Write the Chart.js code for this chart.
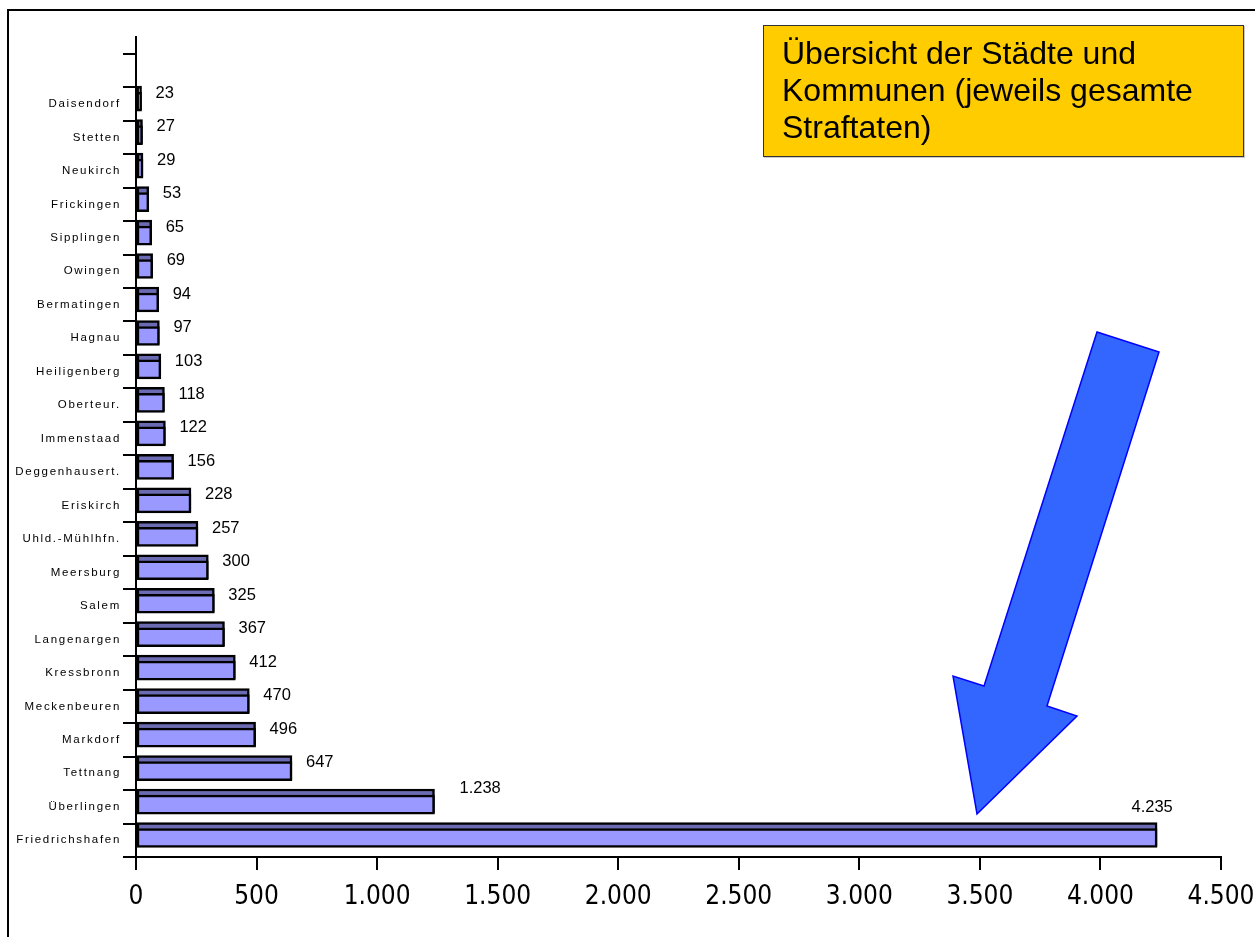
<!DOCTYPE html>
<html><head><meta charset="utf-8">
<script src="https://cdn.jsdelivr.net/npm/chart.js@4/dist/chart.umd.min.js"></script>
<style>
html,body{margin:0;padding:0;background:#fff;overflow:hidden;width:1255px;height:937px;}
#wrap{position:relative;width:1255px;height:937px;overflow:hidden;}
#frame{position:absolute;left:7px;top:9px;width:1400px;height:1100px;border:2px solid #000;box-sizing:border-box;}
#c{position:absolute;left:0;top:0;}
#note{position:absolute;left:763px;top:25px;width:481px;height:132px;box-sizing:border-box;background:#ffcc00;border:1px solid #333;font-family:'Liberation Sans',Arial,sans-serif;font-size:32px;line-height:37px;padding:9px 0 0 18px;color:#000;box-shadow:1px 1px 0 #c8c8c8;}
</style></head>
<body><div id="wrap"><div id="frame"></div><canvas id="c" width="1255" height="937"></canvas><div id="note">Übersicht der Städte und<br>Kommunen (jeweils gesamte<br>Straftaten)</div></div>
<script>
// ---- data ----
const categories = ['', 'Daisendorf', 'Stetten', 'Neukirch', 'Frickingen', 'Sipplingen', 'Owingen',
  'Bermatingen', 'Hagnau', 'Heiligenberg', 'Oberteur.', 'Immenstaad', 'Deggenhausert.', 'Eriskirch',
  'Uhld.-Mühlhfn.', 'Meersburg', 'Salem', 'Langenargen', 'Kressbronn', 'Meckenbeuren', 'Markdorf',
  'Tettnang', 'Überlingen', 'Friedrichshafen'];
const straftaten = [null, 23, 27, 29, 53, 65, 69, 94, 97, 103, 118, 122, 156, 228, 257, 300, 325,
  367, 412, 470, 496, 647, 1238, 4235];
const xTickValues = [0, 500, 1000, 1500, 2000, 2500, 3000, 3500, 4000, 4500];

const fmt = v => String(v).replace(/\B(?=(\d{3})+(?!\d))/g, '.');
const points = categories.map((c, i) => ({x: straftaten[i], y: i})).filter(p => p.x !== null);

const N = categories.length;
const yMin = -1, yMax = N - 0.5;           // label axis range (half band above the first tick)
const darkShift = 0.172, lightShift = 0.067; // bars sit in the upper part of each band

const spacingPlugin = {
  id: 'spacing',
  beforeDraw(chart) { chart.ctx.letterSpacing = '1.7px'; },
  beforeDatasetsDraw(chart) { chart.ctx.letterSpacing = '0px'; }
};

const labelPlugin = {
  id: 'valueLabels',
  afterDatasetsDraw(chart) {
    const ctx = chart.ctx, ys = chart.scales.y, xs = chart.scales.x;
    const band = Math.abs(ys.getPixelForValue(1) - ys.getPixelForValue(0));
    const maxV = Math.max(...points.map(p => p.x));
    ctx.save();
    ctx.letterSpacing = '0px';
    ctx.font = '16.5px "Liberation Sans", Arial, sans-serif';
    ctx.fillStyle = '#000';
    ctx.textBaseline = 'middle';
    points.forEach(p => {
      const end = xs.getPixelForValue(p.x);
      const top = ys.getPixelForValue(p.y) - band / 2;
      if (p.x === maxV) {
        ctx.textAlign = 'center';
        ctx.fillText(fmt(p.x), end - 5, top - 16);
      } else if (p.x >= 1000) {
        ctx.textAlign = 'left';
        ctx.fillText(fmt(p.x), end + 25, top - 2);
      } else {
        ctx.textAlign = 'left';
        ctx.fillText(fmt(p.x), end + 14, top + 6);
      }
    });
    ctx.restore();
  }
};

const arrowPlugin = {
  id: 'arrow',
  afterDraw(chart) {
    const ctx = chart.ctx;
    const pts = [[1097, 332], [1159, 352], [1047, 706], [1077, 716], [977, 814], [953, 676], [984, 686]];
    ctx.save();
    ctx.beginPath();
    pts.forEach((p, i) => i ? ctx.lineTo(p[0], p[1]) : ctx.moveTo(p[0], p[1]));
    ctx.closePath();
    ctx.fillStyle = '#3366ff';
    ctx.fill();
    ctx.strokeStyle = '#0000ff';
    ctx.lineWidth = 1.5;
    ctx.lineJoin = 'miter';
    ctx.stroke();
    ctx.restore();
  }
};

const narrowFamily = "'Liberation Sans Narrow', 'Arial Narrow', 'DejaVu Sans Condensed', 'Roboto Condensed', 'Liberation Sans', Arial, sans-serif";
const noPad = s => { s.paddingLeft = 0; s.paddingRight = 0; s.paddingTop = 0; s.paddingBottom = 0; };

new Chart(document.getElementById('c'), {
  type: 'bar',
  data: {
    datasets: [
      {data: points, yAxisID: 'yDark', backgroundColor: '#6b6bb3', borderColor: '#000', borderWidth: 2.5,
       borderSkipped: false, barThickness: 24, grouped: false, order: 2},
      {data: points, yAxisID: 'yLight', backgroundColor: '#9999ff', borderColor: '#000', borderWidth: 2.5,
       borderSkipped: false, barThickness: 19, grouped: false, order: 1}
    ]
  },
  options: {
    indexAxis: 'y',
    responsive: false,
    animation: false,
    devicePixelRatio: 1,
    layout: {padding: {left: 0, top: 37, right: 34, bottom: 0}},
    plugins: {legend: {display: false}, tooltip: {enabled: false}},
    scales: {
      x: {
        type: 'linear', min: 0, max: 4500, bounds: 'data', offset: false,
        afterBuildTicks: s => { s.ticks = xTickValues.map(v => ({value: v})); },
        afterFit: s => { s.height = 80; noPad(s); },
        border: {color: '#000', width: 2},
        grid: {drawOnChartArea: false, drawTicks: true, tickLength: 13, color: '#000', lineWidth: 2},
        ticks: {z: 1, maxRotation: 0, autoSkip: false, padding: 12, color: '#000',
          font: {family: narrowFamily, size: 26},
          callback: v => fmt(v)}
      },
      y: {
        type: 'linear', reverse: true, min: yMin, max: yMax, bounds: 'data', offset: false,
        afterBuildTicks: s => { s.ticks = categories.map((c, i) => ({value: i})); },
        afterFit: s => { s.width = 136; noPad(s); },
        border: {color: '#000', width: 2},
        grid: {offset: true, drawOnChartArea: false, drawTicks: true, tickLength: 13, color: '#000', lineWidth: 2},
        ticks: {z: -1, autoSkip: false, padding: 2, color: '#000',
          font: {family: "'Liberation Sans', Arial, sans-serif", size: 11.5},
          callback: (v) => categories[v] ?? ''}
      },
      yDark: {type: 'linear', display: false, reverse: true, bounds: 'data', offset: false,
        min: yMin + darkShift, max: yMax + darkShift},
      yLight: {type: 'linear', display: false, reverse: true, bounds: 'data', offset: false,
        min: yMin + lightShift, max: yMax + lightShift}
    }
  },
  plugins: [spacingPlugin, labelPlugin, arrowPlugin]
});
</script>
</body></html>
